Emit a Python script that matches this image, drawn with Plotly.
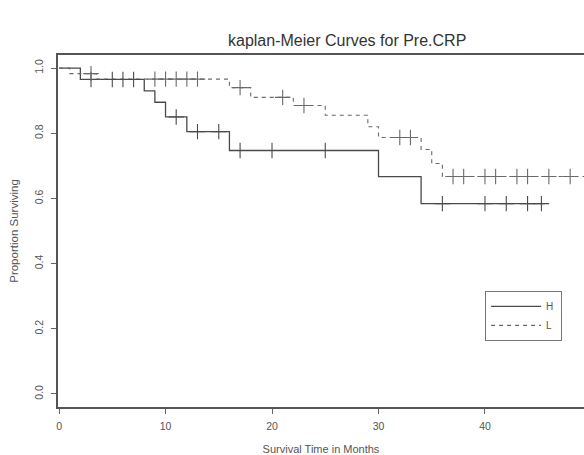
import plotly.graph_objects as go

# Kaplan-Meier step data (time, survival)
h_times = [0, 2, 8, 9, 10, 12, 16, 30, 34, 45.6]
h_surv = [1.0, 0.965, 0.93, 0.895, 0.85, 0.805, 0.747, 0.667, 0.584, 0.584]
h_cens_t = [3, 5, 6, 7, 11, 13, 15, 17, 20, 25, 36, 40, 42, 44, 45.3]
h_cens_s = [0.965, 0.965, 0.965, 0.965, 0.85, 0.805, 0.805, 0.747, 0.747, 0.747,
            0.584, 0.584, 0.584, 0.584, 0.584]

l_times = [0, 1, 3.5, 16, 18, 22, 25, 29, 30, 34, 35, 36, 49.3]
l_surv = [1.0, 0.983, 0.966, 0.94, 0.91, 0.885, 0.855, 0.82, 0.787, 0.75, 0.707, 0.667, 0.667]
l_cens_t = [3, 9, 10, 11, 12, 13, 17, 21, 23, 32, 33, 37, 38, 40, 41, 43, 44, 46, 48]
l_cens_s = [0.983, 0.966, 0.966, 0.966, 0.966, 0.966, 0.94, 0.91, 0.885, 0.787, 0.787,
            0.667, 0.667, 0.667, 0.667, 0.667, 0.667, 0.667, 0.667]

x_ticks = [0, 10, 20, 30, 40]
y_ticks = [0.0, 0.2, 0.4, 0.6, 0.8, 1.0]

solid_col = "#4a4a4a"
dash_col = "#6a6a6a"
NB = "\u00a0"

fig = go.Figure()
fig.add_trace(go.Scatter(x=h_times, y=h_surv, mode="lines", line_shape="hv",
                         line=dict(color=solid_col, width=1.3), name="H" + NB))
fig.add_trace(go.Scatter(x=l_times, y=l_surv, mode="lines", line_shape="hv",
                         line=dict(color=dash_col, width=1.1, dash="4px,4px"), name="L" + NB))
fig.add_trace(go.Scatter(x=h_cens_t, y=h_cens_s, mode="markers", showlegend=False,
                         marker=dict(symbol="cross-thin", size=11,
                                     line=dict(color=solid_col, width=1.1))))
fig.add_trace(go.Scatter(x=l_cens_t, y=l_cens_s, mode="markers", showlegend=False,
                         marker=dict(symbol="cross-thin", size=11,
                                     line=dict(color=dash_col, width=1.1))))

font_fam = "Liberation Sans, Arial, sans-serif"
fig.update_layout(
    width=584, height=455,
    margin=dict(l=58, r=0, t=55, b=48, autoexpand=False),
    paper_bgcolor="white", plot_bgcolor="white",
    font=dict(family=font_fam, size=10.5, color="#555"),
    showlegend=True,
    legend=dict(x=0.812, y=0.33, xanchor="left", yanchor="top",
                bordercolor="#777", borderwidth=1, bgcolor="white",
                font=dict(size=10, color="#555"), itemwidth=50,
                tracegroupgap=0),
    annotations=[
        dict(text="kaplan-Meier Curves for Pre.CRP", xref="paper", yref="paper",
             x=(347 - 58) / 526, y=1 + (55 - 41) / 352, xanchor="center", yanchor="middle",
             showarrow=False, font=dict(size=16, color="#333")),
    ],
)
fig.update_xaxes(range=[-0.1, 49.3], tickvals=x_ticks, ticks="outside", ticklen=5,
                 tickcolor="#666", showline=True, linecolor="#555", linewidth=1.6,
                 mirror=True, showgrid=False, zeroline=False, automargin=False,
                 ticklabelstandoff=4,
                 title=dict(text="Survival Time in Months", font=dict(size=11, color="#555"),
                            standoff=14))
fig.update_yaxes(range=[-0.04, 1.04], tickvals=y_ticks, tickformat=".1f", ticks="outside",
                 ticklen=5, tickcolor="#666", tickangle=-90, showline=True, linecolor="#555",
                 linewidth=1.6, showgrid=False, zeroline=False, automargin=False,
                 ticklabelstandoff=4,
                 title=dict(text="Proportion Surviving", font=dict(size=11.5, color="#555"),
                            standoff=12))

fig.write_html("out.html", config={"displayModeBar": False},
               post_script="document.body.style.margin='0';document.body.style.overflow='hidden';")
